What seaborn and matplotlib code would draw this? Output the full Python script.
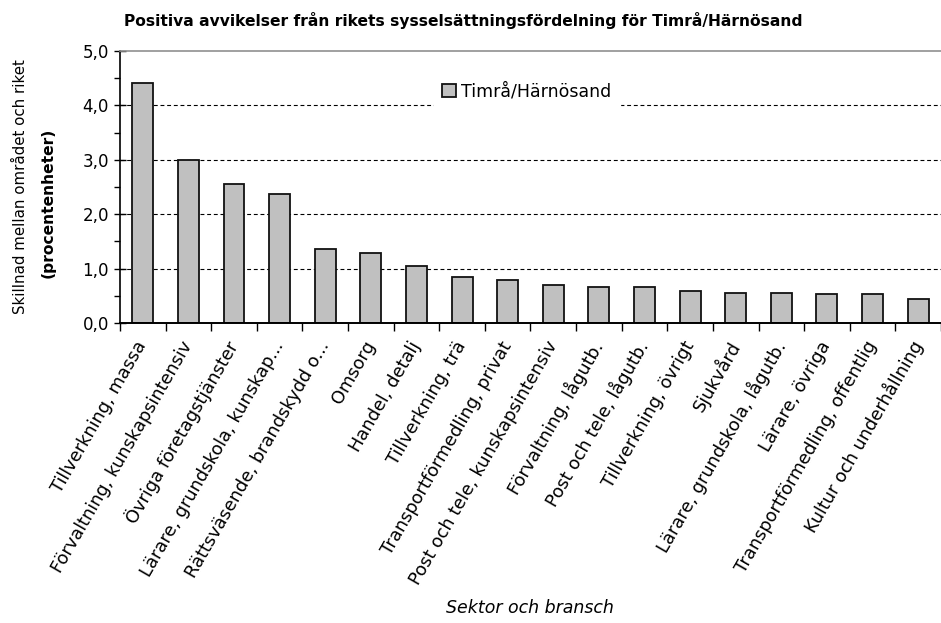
import matplotlib
matplotlib.use("Agg")
import matplotlib.pyplot as plt
import seaborn as sns
import pandas as pd
from matplotlib.ticker import FixedLocator, MultipleLocator, FuncFormatter

# Data
sektorer = [
    "Tillverkning, massa",
    "Förvaltning, kunskapsintensiv",
    "Övriga företagstjänster",
    "Lärare, grundskola, kunskap...",
    "Rättsväsende, brandskydd o...",
    "Omsorg",
    "Handel, detalj",
    "Tillverkning, trä",
    "Transportförmedling, privat",
    "Post och tele, kunskapsintensiv",
    "Förvaltning, lågutb.",
    "Post och tele, lågutb.",
    "Tillverkning, övrigt",
    "Sjukvård",
    "Lärare, grundskola, lågutb.",
    "Lärare, övriga",
    "Transportförmedling, offentlig",
    "Kultur och underhållning",
]
avvikelse = [4.41, 3.00, 2.56, 2.38, 1.37, 1.28, 1.05, 0.84, 0.79,
             0.70, 0.67, 0.67, 0.59, 0.56, 0.56, 0.53, 0.53, 0.44]
serie = "Timrå/Härnösand"

df = pd.DataFrame({"sektor": sektorer, "varde": avvikelse})

sns.set_style("white")
plt.rcParams["font.family"] = ["DejaVu Sans"]
plt.rcParams["text.color"] = "black"
plt.rcParams["axes.labelcolor"] = "black"
plt.rcParams["xtick.color"] = "black"
plt.rcParams["ytick.color"] = "black"

fig = plt.figure(figsize=(9.41, 6.23), dpi=100)
ax = fig.add_axes([0.1275, 0.4815, 0.8725, 0.4365])

sns.barplot(data=df, x="sektor", y="varde", color="#c0c0c0", width=0.46,
            edgecolor="#111111", linewidth=1.3, saturation=1, label=serie, ax=ax)

ax.set_xlim(-0.5, len(sektorer) - 0.5)
ax.set_ylim(0, 5)

# rutnät
for y in [1, 2, 3, 4]:
    ax.axhline(y, color="black", lw=0.8, ls=(0, (3.5, 2.5)), zorder=0)
ax.set_axisbelow(True)

# axlar
ax.spines["right"].set_visible(False)
ax.spines["top"].set_color("#909090")
ax.spines["top"].set_linewidth(1.2)
ax.spines["left"].set_linewidth(1.2)
ax.spines["bottom"].set_linewidth(1.4)
ax.spines["left"].set_color("black")
ax.spines["bottom"].set_color("black")

ax.yaxis.set_major_locator(MultipleLocator(1))
ax.yaxis.set_minor_locator(MultipleLocator(0.5))
ax.yaxis.set_major_formatter(FuncFormatter(lambda v, p: f"{v:.1f}".replace(".", ",")))
ax.tick_params(axis="y", which="major", direction="inout", length=8, width=1,
               labelsize=12, pad=4, left=True)
ax.tick_params(axis="y", which="minor", direction="out", length=4, width=1, left=True)

ax.set_xticks(range(len(sektorer)))
ax.set_xticklabels(sektorer, rotation=60, ha="right", va="center",
                   rotation_mode="anchor", fontsize=12.8)
ax.xaxis.set_minor_locator(FixedLocator([i - 0.5 for i in range(len(sektorer) + 1)]))
ax.tick_params(axis="x", which="major", length=0, pad=14)
ax.tick_params(axis="x", which="minor", direction="out", length=6, width=1, bottom=True)

ax.set_xlabel("")
ax.set_ylabel("")

# titlar
fig.text(0.492, 0.967, "Positiva avvikelser från rikets sysselsättningsfördelning för Timrå/Härnösand",
         ha="center", va="center", fontsize=11.2, fontweight="bold")
fig.text(0.022, 0.70, "Skillnad mellan området och riket", rotation=90,
         ha="center", va="center", fontsize=10.8)
fig.text(0.051, 0.675, "(procentenheter)", rotation=90,
         ha="center", va="center", fontsize=11.2, fontweight="bold")
fig.text(0.563, 0.024, "Sektor och bransch", ha="center", va="center",
         fontsize=12.5, fontstyle="italic")

leg = ax.legend(loc="center left", bbox_to_anchor=(0.382, 0.85), frameon=True,
                fontsize=12.5, handlelength=0.8, handleheight=0.8, handletextpad=0.3,
                borderpad=0.5, borderaxespad=0)
leg.get_frame().set_edgecolor("white")
leg.get_frame().set_facecolor("white")
leg.get_frame().set_alpha(1)
leg.set_zorder(5)

fig.savefig("out.png", dpi=100)
